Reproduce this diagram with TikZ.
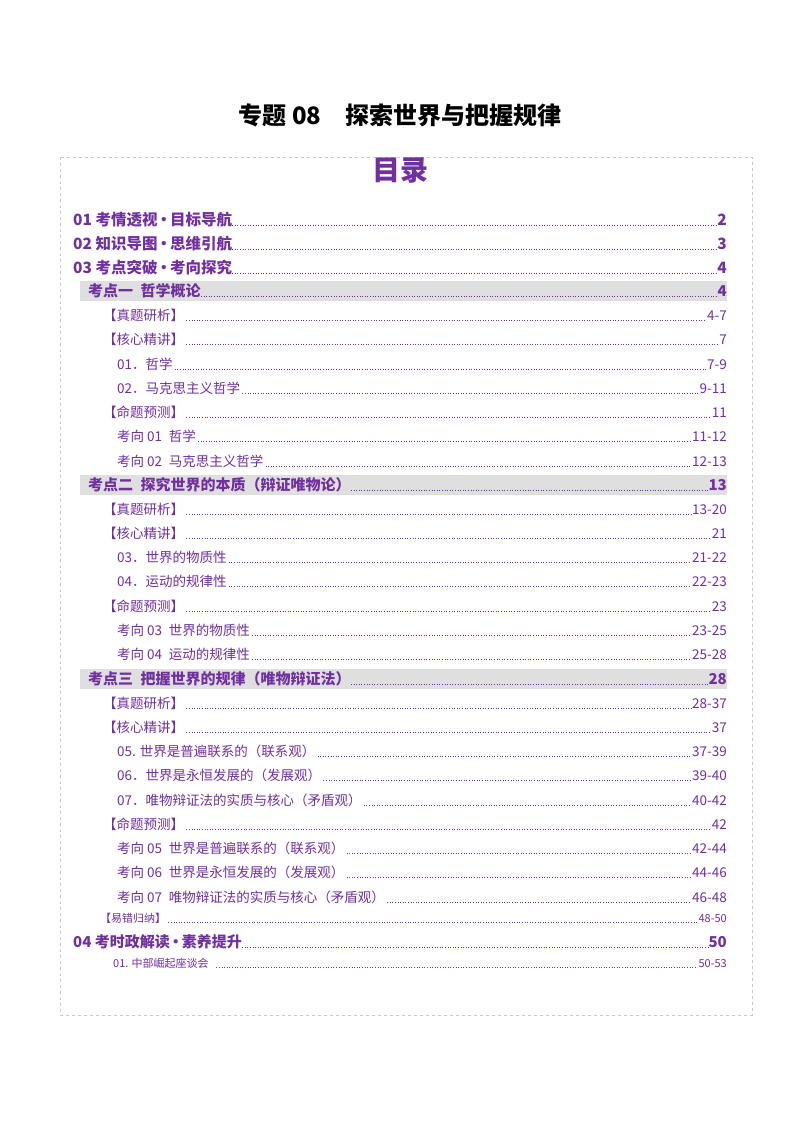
\documentclass[tikz,border=0pt]{standalone}
\usepackage{fontspec}
\setmainfont{Noto Sans CJK SC}
\definecolor{tocpurple}{HTML}{7030A0}
\definecolor{boxline}{HTML}{D0C0E0}
\tikzset{
  lvla/.style={anchor=base west, text=tocpurple, font=\fontsize{15.5}{15.5}\selectfont\bfseries, inner sep=0pt},
  lvlb/.style={anchor=base west, text=tocpurple, font=\fontsize{15}{15}\selectfont\bfseries, inner sep=0pt},
  lvlc/.style={anchor=base west, text=tocpurple, font=\fontsize{13.5}{13.5}\selectfont, inner sep=0pt},
  lvld/.style={anchor=base west, text=tocpurple, font=\fontsize{11}{11}\selectfont, inner sep=0pt},
  pagea/.style={anchor=base east, text=tocpurple, font=\fontsize{15.5}{15.5}\selectfont\bfseries, inner sep=0pt},
  pageb/.style={anchor=base east, text=tocpurple, font=\fontsize{15}{15}\selectfont\bfseries, inner sep=0pt},
  pagec/.style={anchor=base east, text=tocpurple, font=\fontsize{13.5}{13.5}\selectfont, inner sep=0pt},
  paged/.style={anchor=base east, text=tocpurple, font=\fontsize{11}{11}\selectfont, inner sep=0pt},
  leader/.style={tocpurple, line width=1pt, dash pattern=on 1pt off 1.6pt},
}
\newcommand{\dotsep}{\kern-0.1em•\kern-0.1em}
\begin{document}
\begin{tikzpicture}[x=1pt, y=-1pt]
\useasboundingbox[fill=white] (0,0) rectangle (800,1132);

\node (title) at (400,115) {\fontsize{24}{24}\selectfont\bfseries 专题 08\quad 探索世界与把握规律};
\draw[boxline, dashed, line width=0.8pt] (60,157) rectangle (752,1015);
\node[text=tocpurple] (head) at (400,170) {\fontsize{28}{28}\selectfont\bfseries 目录};

% grey bands
\foreach \y in {291,485,679}
  \fill[gray!25] (80,\y-10) rectangle (727,\y+10);

% level one
\foreach \y/\x/\t/\p [count=\i] in {219/73/01 考情透视\dotsep 目标导航/2, 243/73/02 知识导图\dotsep 思维引航/3, 267/73/03 考点突破\dotsep 考向探究/4}{
  \node[lvla] (ea\i) at (\x,\y+6) {\t};
  \node[pagea] (pa\i) at (727,\y+6) {\p};
  \draw[leader] (ea\i.base east) -- (pa\i.base west);
}
\node[lvlb] (ea4) at (73,947) {04 考时政解读\dotsep 素养提升};
\node[pageb] (pa4) at (727,947) {50};
\draw[leader] (ea4.base east) -- (pa4.base west);

% level two
\foreach \y/\t/\p [count=\i] in {291/考点一\enspace 哲学概论/4, 485/考点二\enspace 探究世界的本质（辩证唯物论）/13, 679/考点三\enspace 把握世界的规律（唯物辩证法）/28}{
  \node[lvlb] (eb\i) at (88,\y+5) {\t};
  \node[pageb] (pb\i) at (727,\y+5) {\p};
  \draw[leader] (eb\i.base east) -- (pb\i.base west);
}

% level three and four
\foreach \y/\x/\t/\p [count=\i] in {
  315/103/【真题研析】/4-7, 339/103/【核心精讲】/7,
  364/117/01．哲学/7-9, 388/117/02．马克思主义哲学/9-11,
  412/103/【命题预测】/11,
  436/117/考向 01\enspace 哲学/11-12, 461/117/考向 02\enspace 马克思主义哲学/12-13,
  509/103/【真题研析】/13-20, 533/103/【核心精讲】/21,
  557/117/03．世界的物质性/21-22, 581/117/04．运动的规律性/22-23,
  606/103/【命题预测】/23,
  630/117/考向 03\enspace 世界的物质性/23-25, 654/117/考向 04\enspace 运动的规律性/25-28,
  703/103/【真题研析】/28-37, 727/103/【核心精讲】/37,
  751/117/05. 世界是普遍联系的（联系观）/37-39, 775/117/06．世界是永恒发展的（发展观）/39-40,
  800/117/07．唯物辩证法的实质与核心（矛盾观）/40-42,
  824/103/【命题预测】/42,
  848/117/考向 05\enspace 世界是普遍联系的（联系观）/42-44, 872/117/考向 06\enspace 世界是永恒发展的（发展观）/44-46,
  897/117/考向 07\enspace 唯物辩证法的实质与核心（矛盾观）/46-48}{
  \node[lvlc] (ec\i) at (\x,\y+5) {\t};
  \node[pagec] (pc\i) at (727,\y+5) {\p};
  \draw[leader] ([xshift=2pt]ec\i.base east) -- ([xshift=-1pt]pc\i.base west);
}

% small entries
\foreach \y/\x/\t/\p [count=\i] in {918/100/【易错归纳】/48-50, 963/113/01. 中部崛起座谈会\enspace/50-53}{
  \node[lvld] (ed\i) at (\x,\y+4) {\t};
  \node[paged] (pd\i) at (727,\y+4) {\p};
  \draw[leader] ([xshift=2pt]ed\i.base east) -- ([xshift=-1pt]pd\i.base west);
}
\end{tikzpicture}
\end{document}
